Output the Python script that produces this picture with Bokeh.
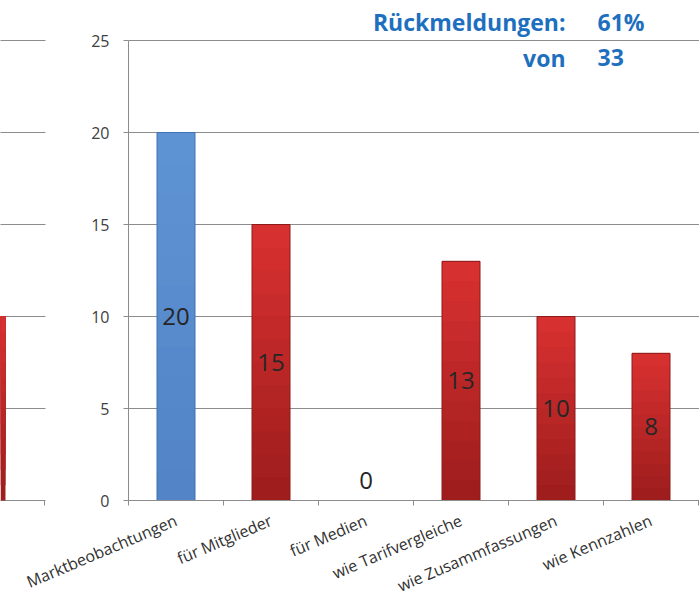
import math
from bokeh.plotting import figure
from bokeh.models import Range1d, FixedTicker, Grid, Label, LinearAxis, ColumnDataSource
from bokeh.core.properties import value
from bokeh.embed import file_html
from bokeh.resources import INLINE

# ---------------- data ----------------
categories = ["Marktbeobachtungen", "für Mitglieder", "für Medien",
              "wie Tarifvergleiche", "wie Zusammfassungen", "wie Kennzahlen"]
counts = [20, 15, 0, 13, 10, 8]
bar_top_colors = ["#5f94d4", "#da3131", "#da3131", "#da3131", "#da3131", "#da3131"]
bar_bottom_colors = ["#5183c6", "#9c1c1c", "#9c1c1c", "#9c1c1c", "#9c1c1c", "#9c1c1c"]
bar_lines = ["#3f73b5", "#8e1a1a", "#8e1a1a", "#8e1a1a", "#8e1a1a", "#8e1a1a"]
y_ticks = [0, 5, 10, 15, 20, 25]
rate_label = "Rückmeldungen:"
rate_value = "61%"
total_label = "von"
total_value = "33"
# partial neighbouring chart (cut off at the left edge of the slide)
left_x = [-1.5]
left_values = [10]
left_boundary = [-0.884]

FONT = "Open Sans"
GRID = "#8c8c8c"
BLUE = "#1f6fbf"

PX = 95.0            # pixels per category
X0 = 128.0           # pixel position of the value axis
PY = 18.4            # pixels per unit
n = len(categories)
xs = [i + 0.5 for i in range(n)]


def mix(c1, c2, t):
    a = [int(c1[i:i + 2], 16) for i in (1, 3, 5)]
    b = [int(c2[i:i + 2], 16) for i in (1, 3, 5)]
    return "#%02x%02x%02x" % tuple(round(a[j] + (b[j] - a[j]) * t) for j in range(3))


p = figure(frame_width=699, frame_height=600, min_border_left=0, min_border_right=0,
           min_border_top=0, min_border_bottom=0,
           x_range=Range1d(-X0 / PX, (699 - X0) / PX),
           y_range=Range1d(-100 / PY, 25 + 40 / PY),
           output_backend="svg", toolbar_location=None)
p.outline_line_color = None
p.xgrid.visible = False
p.ygrid.ticker = FixedTicker(ticks=y_ticks)
p.ygrid.grid_line_color = GRID
p.ygrid.cross_bounds = (0, n + 1)

# value axis placed inside the frame
p.yaxis.fixed_location = 0
p.yaxis.bounds = (0, 25)
p.yaxis.ticker = FixedTicker(ticks=y_ticks)
p.yaxis.axis_line_color = GRID
p.yaxis.major_tick_line_color = GRID
p.yaxis.major_tick_out = 5
p.yaxis.major_tick_in = 0
p.yaxis.minor_tick_line_color = None
p.yaxis.major_label_standoff = 14
p.yaxis.major_label_text_font = FONT
p.yaxis.major_label_text_font_size = "16px"
p.yaxis.major_label_text_color = "#404040"

p.xaxis.fixed_location = 0
p.xaxis.bounds = (0, n)
p.xaxis.ticker = FixedTicker(ticks=xs, minor_ticks=list(range(n + 1)))
p.xaxis.major_label_overrides = {x: c for x, c in zip(xs, categories)}
p.xaxis.axis_line_color = GRID
p.xaxis.major_tick_line_color = None
p.xaxis.minor_tick_line_color = GRID
p.xaxis.minor_tick_out = 5
p.xaxis.minor_tick_in = 0
p.xaxis.major_label_orientation = math.radians(23)
p.xaxis.major_label_standoff = 13
p.xaxis.major_label_text_font = FONT
p.xaxis.major_label_text_font_size = "16px"
p.xaxis.major_label_text_color = "#303030"

# ---- cut-off neighbouring chart at the left edge
p.add_layout(Grid(dimension=1, ticker=FixedTicker(ticks=y_ticks), grid_line_color=GRID,
                  cross_bounds=(-3, (45 - X0) / PX)))
lax = LinearAxis(fixed_location=0, ticker=FixedTicker(ticks=left_boundary),
                 axis_line_color=None, major_tick_line_color=GRID, major_tick_out=5,
                 major_tick_in=0, major_label_text_color=None, minor_tick_line_color=None)
p.add_layout(lax, "below")

K = 12
# vertical shading: each layer starts a little higher and covers up to the value
for k in range(K):
    t = (k + 0.5) / K
    p.vbar(x=left_x, bottom=[v * k / K for v in left_values], top=left_values, width=0.41,
           fill_color=mix("#9c1c1c", "#da3131", t), line_color=None)
    cols = [mix(b, tc, t) for b, tc in zip(bar_bottom_colors, bar_top_colors)]
    p.vbar(x=xs, bottom=[v * k / K for v in counts], top=counts,
           width=0.4, fill_color=cols, line_color=None)

src = ColumnDataSource(dict(x=xs, top=counts, line=bar_lines,
                            mid=[c / 2 for c in counts],
                            lab=[str(c) for c in counts],
                            yoff=[-20 if c == 0 else 0 for c in counts]))
p.vbar(x="x", top="top", width=0.4, fill_color=None, line_color="line",
       line_width=1, source=src)
p.text(x="x", y="mid", text="lab", y_offset="yoff", source=src,
       text_align="center", text_baseline="middle",
       text_font=value(FONT), text_font_size="24px", text_color="#262626")

for txt, x, align, y in [(rate_label, 4.6, "right", 26.03), (rate_value, 4.937, "left", 26.03),
                         (total_label, 4.6, "right", 24.07), (total_value, 4.937, "left", 24.07)]:
    p.add_layout(Label(x=x, y=y, text=txt, text_align=align, text_baseline="alphabetic",
                       text_font=FONT, text_font_size="23px", text_font_style="bold",
                       text_color=BLUE))

open("out.html", "w").write(file_html(p, INLINE))
